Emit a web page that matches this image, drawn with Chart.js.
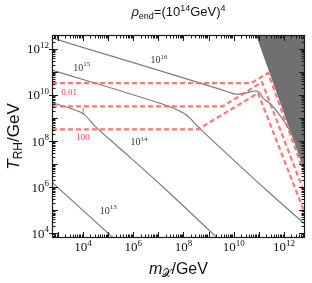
<!DOCTYPE html>
<html><head><meta charset="utf-8">
<script src="https://cdn.jsdelivr.net/npm/chart.js@4"></script>
<style>html,body{margin:0;padding:0;background:#fff}</style>
</head><body>
<canvas id="c" width="312" height="283" style="width:312px;height:283px;display:block"></canvas>
<script>
// axis ranges (log10 GeV)
const X_MIN_EXP = 2.77, X_MAX_EXP = 12.84;
const Y_MIN_EXP = 3.8, Y_MAX_EXP = 12.6;
const xTickExps = [4, 6, 8, 10, 12];
const yTickExps = [4, 6, 8, 10, 12];

// grey contours: log10(m_X/GeV) and log10(T_RH/GeV)
const c16_logM = [2.77, 9.80, 10.05, 10.30, 10.52, 10.75, 10.89, 11.05, 11.18, 11.45, 11.84, 12.11, 12.37, 12.57, 12.71, 12.84];
const c16_logT = [12.47, 10.13, 10.04, 10.05, 10.09, 10.15, 10.18, 10.08, 9.85, 9.63, 9.12, 8.69, 8.18, 7.69, 7.17, 6.73];
const c15_logM = [2.77, 7.07, 7.50, 7.80, 8.13, 8.66, 9.72, 11.32, 12.84];
const c15_logT = [11.08, 9.64, 9.48, 9.33, 9.12, 8.54, 7.46, 5.86, 4.40];
const c14_logM = [2.77, 3.60, 4.02, 4.48, 5.48, 7.20, 9.35];
const c14_logT = [9.67, 9.38, 9.18, 8.65, 7.68, 6.00, 3.80];
const c13_logM = [2.77, 5.21];
const c13_logT = [6.22, 3.80];

// red dashed curves (0.01, 1, 100)
const rA_logM = [2.77, 10.69, 11.37, 12.84];
const rA_logT = [10.51, 10.51, 10.95, 6.51];
const rB_logM = [2.77, 9.58, 11.13, 12.84];
const rB_logT = [9.51, 9.51, 10.56, 5.69];
const rC_logM = [2.77, 8.58, 10.97, 12.84];
const rC_logT = [8.51, 8.51, 10.08, 4.86];

// excluded (grey) region boundary
const ex_logM = [10.89, 12.84];
const ex_logT = [12.60, 6.64];

// contour labels
const greyLabelExp = ['16', '15', '14', '13'];
const greyLabelLogM = [7.03, 3.95, 6.23, 5.01];
const greyLabelLogT = [11.38, 11.06, 7.82, 4.86];
const redLabelText = ['0.01', '1', '100'];
const redLabelLogM = [3.45, 4.00, 4.00];
const redLabelLogT = [10.02, 9.17, 8.03];

function pts(lm, lt) { return lm.map((m, i) => ({ x: Math.pow(10, m), y: Math.pow(10, lt[i]) })); }

const SERIF = "'Liberation Serif','DejaVu Serif',serif";
const SANS = "'Liberation Sans','DejaVu Sans',Arial,sans-serif";

function rich(ctx, segs, x, y, align, family, color) {
  let w = 0;
  for (const s of segs) {
    ctx.font = (s.italic ? 'italic ' : '') + s.size + 'px ' + (s.family || family);
    s.w = ctx.measureText(s.t).width; w += s.w;
  }
  let cx = align === 'center' ? x - w / 2 : align === 'right' ? x - w : x;
  ctx.fillStyle = color; ctx.textAlign = 'left'; ctx.textBaseline = 'alphabetic';
  for (const s of segs) {
    ctx.font = (s.italic ? 'italic ' : '') + s.size + 'px ' + (s.family || family);
    ctx.fillText(s.t, cx, y + (s.dy || 0));
    cx += s.w;
  }
}

const decor = {
  id: 'decor',
  afterDatasetsDraw(chart) {
    const ctx = chart.ctx, a = chart.chartArea, xs = chart.scales.x, ys = chart.scales.y;
    ctx.save();
    ctx.strokeStyle = '#1a1a1a'; ctx.lineWidth = 1;
    ctx.beginPath();
    for (let d = Math.floor(X_MIN_EXP); d <= Math.ceil(X_MAX_EXP); d++) {
      for (let k = 1; k <= 9; k++) {
        const v = k * Math.pow(10, d);
        if (v < Math.pow(10, X_MIN_EXP) || v > Math.pow(10, X_MAX_EXP)) continue;
        const px = Math.round(xs.getPixelForValue(v)) + 0.5;
        const L = k === 1 ? 6 : 3.5;
        ctx.moveTo(px, a.bottom); ctx.lineTo(px, a.bottom - L);
        ctx.moveTo(px, a.top); ctx.lineTo(px, a.top + L);
      }
    }
    for (let d = Math.floor(Y_MIN_EXP); d <= Math.ceil(Y_MAX_EXP); d++) {
      for (let k = 1; k <= 9; k++) {
        const v = k * Math.pow(10, d);
        if (v < Math.pow(10, Y_MIN_EXP) || v > Math.pow(10, Y_MAX_EXP)) continue;
        const py = Math.round(ys.getPixelForValue(v)) + 0.5;
        const L = k === 1 ? 6 : 3.5;
        const O = (k === 1 && d % 2 === 0) ? 3 : 0;
        ctx.moveTo(a.left - O, py); ctx.lineTo(a.left + L, py);
        ctx.moveTo(a.right, py); ctx.lineTo(a.right - L, py);
      }
    }
    ctx.stroke();
    ctx.lineWidth = 1.2;
    ctx.strokeRect(Math.round(a.left) + 0.5, Math.round(a.top) + 0.5, Math.round(a.right - a.left) - 1, Math.round(a.bottom - a.top) - 1);

    for (const t of xs.ticks) {
      const e = Math.round(Math.log10(t.value));
      rich(ctx, [{ t: '10', size: 13 }, { t: String(e), size: 9, dy: -5.5 }], xs.getPixelForValue(t.value), 251, 'center', SERIF, '#111');
    }
    for (const t of ys.ticks) {
      const e = Math.round(Math.log10(t.value));
      rich(ctx, [{ t: '10', size: 13 }, { t: String(e), size: 9, dy: -5.5 }], a.left - 3, ys.getPixelForValue(t.value) + 4.5, 'right', SERIF, '#111');
    }
    greyLabelExp.forEach((e, i) => {
      rich(ctx, [{ t: '10', size: 10 }, { t: e, size: 7, dy: -4.5 }], xs.getPixelForValue(Math.pow(10, greyLabelLogM[i])), ys.getPixelForValue(Math.pow(10, greyLabelLogT[i])), 'center', SERIF, '#333');
    });
    redLabelText.forEach((s, i) => {
      rich(ctx, [{ t: s, size: 9 }], xs.getPixelForValue(Math.pow(10, redLabelLogM[i])), ys.getPixelForValue(Math.pow(10, redLabelLogT[i])), 'center', SERIF, '#ff3c3c');
    });
    rich(ctx, [{ t: 'ρ', size: 13, italic: true }, { t: 'end', size: 9, dy: 3 }, { t: '=(10', size: 13 }, { t: '14', size: 9, dy: -5 }, { t: 'GeV)', size: 13 }, { t: '4', size: 9, dy: -5 }], (a.left + a.right) / 2, 16, 'center', SANS, '#111');
    rich(ctx, [{ t: 'm', size: 16, italic: true }, { t: '𝒳', size: 11, dy: 3 }, { t: '/GeV', size: 16 }], (a.left + a.right) / 2, 274, 'center', SANS, '#111');
    ctx.save();
    ctx.translate(19, (a.top + a.bottom) / 2);
    ctx.rotate(-Math.PI / 2);
    rich(ctx, [{ t: 'T', size: 17, italic: true }, { t: 'RH', size: 12, dy: 3 }, { t: '/GeV', size: 17 }], 0, 0, 'center', SANS, '#111');
    ctx.restore();
    ctx.restore();
  }
};

const greyLine = { borderColor: '#7d7d7d', borderWidth: 1.2, pointRadius: 0, fill: false, cubicInterpolationMode: 'monotone', order: 2 };
const redLine = { borderColor: 'rgba(255,95,95,0.85)', borderWidth: 2.2, borderDash: [5, 3], pointRadius: 0, fill: false, tension: 0, order: 1 };

new Chart(document.getElementById('c'), {
  type: 'line',
  data: {
    datasets: [
      Object.assign({ data: pts(rA_logM, rA_logT) }, redLine),
      Object.assign({ data: pts(rB_logM, rB_logT) }, redLine),
      Object.assign({ data: pts(rC_logM, rC_logT) }, redLine),
      Object.assign({ data: pts(c16_logM, c16_logT) }, greyLine),
      Object.assign({ data: pts(c15_logM, c15_logT) }, greyLine),
      Object.assign({ data: pts(c14_logM, c14_logT) }, greyLine),
      Object.assign({ data: pts(c13_logM, c13_logT) }, greyLine),
      { data: pts(ex_logM, ex_logT), borderWidth: 0, borderColor: 'rgba(0,0,0,0)', backgroundColor: '#707070', fill: 'end', pointRadius: 0, tension: 0, order: 3 }
    ]
  },
  options: {
    responsive: false, animation: false, devicePixelRatio: 1,
    layout: { padding: { top: 35, right: 7, left: 0, bottom: 0 } },
    plugins: { legend: { display: false }, tooltip: { enabled: false }, title: { display: false } },
    scales: {
      x: {
        type: 'logarithmic', min: Math.pow(10, X_MIN_EXP), max: Math.pow(10, X_MAX_EXP),
        afterBuildTicks: s => { s.ticks = xTickExps.map(e => ({ value: Math.pow(10, e) })); },
        afterFit: s => { s.height = 45; },
        ticks: { display: false }, grid: { display: false }, border: { display: false }
      },
      y: {
        type: 'logarithmic', min: Math.pow(10, Y_MIN_EXP), max: Math.pow(10, Y_MAX_EXP),
        afterBuildTicks: s => { s.ticks = yTickExps.map(e => ({ value: Math.pow(10, e) })); },
        afterFit: s => { s.width = 52; },
        ticks: { display: false }, grid: { display: false }, border: { display: false }
      }
    }
  },
  plugins: [decor]
});
</script>
</body></html>
